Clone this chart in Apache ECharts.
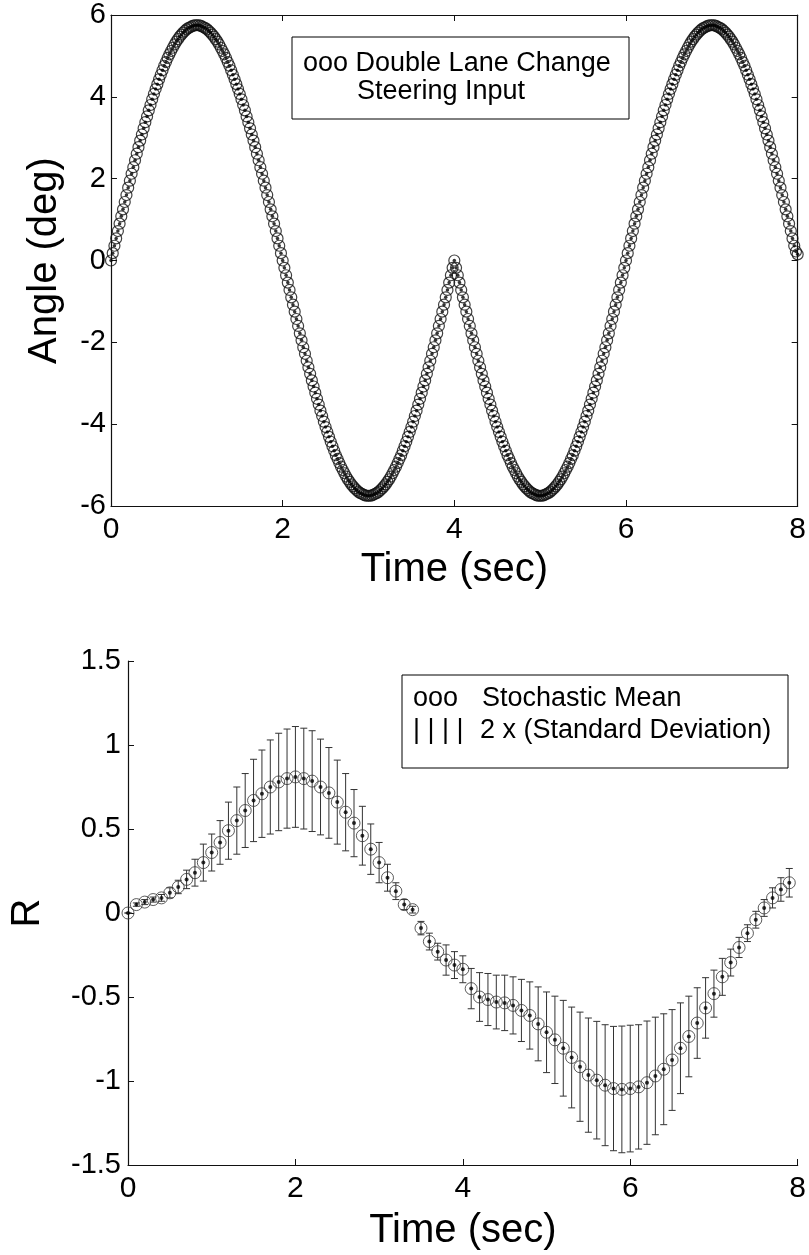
<!DOCTYPE html>
<html>
<head>
<meta charset="utf-8">
<script src="https://cdn.jsdelivr.net/npm/echarts@6/dist/echarts.min.js"></script>
<style>
  html, body { margin: 0; padding: 0; background: #fff; }
  #chart { width: 809px; height: 1255px; }
</style>
</head>
<body>
<div id="chart"></div>
<script>
// ---------- Top plot: double lane change steering input (deg), sampled every 0.02 s ----------
const steerStep = 0.02;
const steer0to1 = [0,0.18,0.36,0.54,0.72,0.90,1.08,1.25,1.43,1.60,1.78,1.95,2.12,2.28,2.45,2.61,2.77,2.93,3.08,3.23,3.38,3.52,3.67,3.80,3.94,4.07,4.19,4.31,4.43,4.54,4.65,4.76,4.85,4.95,5.04,5.12,5.20,5.28,5.35,5.41,5.47,5.52,5.57,5.61,5.65,5.68,5.70,5.72,5.74,5.75,5.75];
const steer1to2 = [5.75,5.74,5.72,5.70,5.68,5.65,5.61,5.57,5.52,5.47,5.41,5.35,5.28,5.20,5.12,5.04,4.95,4.85,4.76,4.65,4.54,4.43,4.31,4.19,4.07,3.94,3.80,3.67,3.52,3.38,3.23,3.08,2.93,2.77,2.61,2.45,2.28,2.12,1.95,1.78,1.60,1.43,1.25,1.08,0.90,0.72,0.54,0.36,0.18,0];
const steer2to3 = [-0.18,-0.36,-0.54,-0.72,-0.90,-1.08,-1.25,-1.43,-1.60,-1.78,-1.95,-2.12,-2.28,-2.45,-2.61,-2.77,-2.93,-3.08,-3.23,-3.38,-3.52,-3.67,-3.80,-3.94,-4.07,-4.19,-4.31,-4.43,-4.54,-4.65,-4.76,-4.85,-4.95,-5.04,-5.12,-5.20,-5.28,-5.35,-5.41,-5.47,-5.52,-5.57,-5.61,-5.65,-5.68,-5.70,-5.72,-5.74,-5.75,-5.75];
const steer3to4 = [-5.75,-5.74,-5.72,-5.70,-5.68,-5.65,-5.61,-5.57,-5.52,-5.47,-5.41,-5.35,-5.28,-5.20,-5.12,-5.04,-4.95,-4.85,-4.76,-4.65,-4.54,-4.43,-4.31,-4.19,-4.07,-3.94,-3.80,-3.67,-3.52,-3.38,-3.23,-3.08,-2.93,-2.77,-2.61,-2.45,-2.28,-2.12,-1.95,-1.78,-1.60,-1.43,-1.25,-1.08,-0.90,-0.72,-0.54,-0.36,-0.18,0];
const steer4to5 = [-0.18,-0.36,-0.54,-0.72,-0.90,-1.08,-1.25,-1.43,-1.60,-1.78,-1.95,-2.12,-2.28,-2.45,-2.61,-2.77,-2.93,-3.08,-3.23,-3.38,-3.52,-3.67,-3.80,-3.94,-4.07,-4.19,-4.31,-4.43,-4.54,-4.65,-4.76,-4.85,-4.95,-5.04,-5.12,-5.20,-5.28,-5.35,-5.41,-5.47,-5.52,-5.57,-5.61,-5.65,-5.68,-5.70,-5.72,-5.74,-5.75,-5.75];
const steer5to6 = [-5.75,-5.74,-5.72,-5.70,-5.68,-5.65,-5.61,-5.57,-5.52,-5.47,-5.41,-5.35,-5.28,-5.20,-5.12,-5.04,-4.95,-4.85,-4.76,-4.65,-4.54,-4.43,-4.31,-4.19,-4.07,-3.94,-3.80,-3.67,-3.52,-3.38,-3.23,-3.08,-2.93,-2.77,-2.61,-2.45,-2.28,-2.12,-1.95,-1.78,-1.60,-1.43,-1.25,-1.08,-0.90,-0.72,-0.54,-0.36,-0.18,0];
const steer6to7 = [0.18,0.36,0.54,0.72,0.90,1.08,1.25,1.43,1.60,1.78,1.95,2.12,2.28,2.45,2.61,2.77,2.93,3.08,3.23,3.38,3.52,3.67,3.80,3.94,4.07,4.19,4.31,4.43,4.54,4.65,4.76,4.85,4.95,5.04,5.12,5.20,5.28,5.35,5.41,5.47,5.52,5.57,5.61,5.65,5.68,5.70,5.72,5.74,5.75,5.75];
const steer7to8 = [5.75,5.74,5.72,5.70,5.68,5.65,5.61,5.57,5.52,5.47,5.41,5.35,5.28,5.20,5.12,5.04,4.95,4.85,4.76,4.65,4.54,4.43,4.31,4.19,4.07,3.94,3.80,3.67,3.52,3.38,3.23,3.08,2.93,2.77,2.61,2.45,2.28,2.12,1.95,1.78,1.60,1.43,1.25,1.08,0.90,0.72,0.54,0.36,0.22,0.15];

// ---------- Bottom plot: stochastic mean of R and half-length of the 2 x std bar ----------
const rTime = [0,0.1,0.2,0.3,0.4,0.5,0.6,0.7,0.8,0.9,1.0,1.1,1.2,1.3,1.4,1.5,1.6,1.7,1.8,1.9,2.0,2.1,2.2,2.3,2.4,2.5,2.6,2.7,2.8,2.9,3.0,3.1,3.2,3.3,3.4,3.5,3.6,3.7,3.8,3.9,4.0,4.1,4.2,4.3,4.4,4.5,4.6,4.7,4.8,4.9,5.0,5.1,5.2,5.3,5.4,5.5,5.6,5.7,5.8,5.9,6.0,6.1,6.2,6.3,6.4,6.5,6.6,6.7,6.8,6.9,7.0,7.1,7.2,7.3,7.4,7.5,7.6,7.7,7.8,7.9];
const rMean = [0,0.05,0.065,0.08,0.09,0.12,0.155,0.20,0.24,0.30,0.36,0.42,0.49,0.55,0.61,0.67,0.71,0.75,0.78,0.80,0.81,0.80,0.785,0.75,0.715,0.66,0.60,0.535,0.46,0.38,0.30,0.21,0.13,0.05,0.02,-0.09,-0.17,-0.23,-0.28,-0.31,-0.335,-0.45,-0.50,-0.515,-0.53,-0.535,-0.55,-0.58,-0.61,-0.66,-0.71,-0.755,-0.805,-0.86,-0.915,-0.965,-0.995,-1.025,-1.045,-1.05,-1.045,-1.035,-1.01,-0.97,-0.93,-0.875,-0.805,-0.735,-0.655,-0.565,-0.48,-0.38,-0.295,-0.205,-0.12,-0.04,0.03,0.09,0.14,0.18];
const rHalfBar = [0,0.01,0.015,0.015,0.02,0.03,0.04,0.055,0.08,0.11,0.11,0.13,0.17,0.20,0.22,0.245,0.26,0.28,0.29,0.295,0.30,0.30,0.30,0.285,0.27,0.25,0.23,0.20,0.175,0.15,0.12,0.08,0.05,0.03,0.02,0.04,0.05,0.05,0.09,0.08,0.08,0.12,0.145,0.155,0.16,0.165,0.17,0.185,0.20,0.22,0.24,0.26,0.285,0.30,0.325,0.34,0.35,0.36,0.37,0.377,0.377,0.37,0.367,0.35,0.33,0.30,0.27,0.24,0.21,0.18,0.14,0.11,0.08,0.06,0.05,0.05,0.05,0.06,0.07,0.085];

// ---------- Tick settings / texts ----------
const topXTicks = { min: 0, max: 8, interval: 2 };
const topYTicks = { min: -6, max: 6, interval: 2 };
const botXTicks = { min: 0, max: 8, interval: 2 };
const botYTicks = { min: -1.5, max: 1.5, interval: 0.5 };
const topLegendLines = ['ooo Double Lane Change', 'Steering Input'];
const botLegendMarks = ['ooo', '| | | |'];
const botLegendTexts = ['Stochastic Mean', '2 x (Standard Deviation)'];

// ---------- Build ----------
const steerAll = [].concat(steer0to1, steer1to2, steer2to3, steer3to4, steer4to5, steer5to6, steer6to7, steer7to8);
const steerData = steerAll.map((v, i) => [+(i * steerStep).toFixed(2), v]);
const rData = rTime.map((t, i) => [t, rMean[i]]);
const rBarData = rTime.map((t, i) => [t, rMean[i], rHalfBar[i]]);

const FONT = '"Liberation Sans", Arial, Helvetica, sans-serif';
const INK = '#111';

function axisBase(extra, labelSize, labelMargin) {
  return Object.assign({
    type: 'value',
    axisLine: { show: true, onZero: false, lineStyle: { color: INK, width: 1.2 } },
    axisTick: { show: true, inside: true, length: 6, lineStyle: { color: INK, width: 1 } },
    splitLine: { show: false },
    axisLabel: { color: '#000', fontSize: labelSize || 29, fontFamily: FONT, margin: labelMargin || 8 },
    nameTextStyle: { color: '#000', fontSize: 40, fontFamily: FONT }
  }, extra);
}

const chart = echarts.init(document.getElementById('chart'), null, { renderer: 'canvas' });

const option = {
  animation: false,
  backgroundColor: '#fff',
  grid: [
    { left: 111, top: 15, width: 689, height: 491 },
    { left: 121, top: 661, width: 679, height: 504 }
  ],
  xAxis: [
    axisBase(Object.assign({ gridIndex: 0, position: 'bottom', name: 'Time (sec)', nameLocation: 'middle', nameGap: 44 }, topXTicks), 30, 9),
    axisBase(Object.assign({ gridIndex: 0, position: 'top', axisLabel: { show: false } }, topXTicks)),
    axisBase(Object.assign({ gridIndex: 1, position: 'bottom', name: 'Time (sec)', nameLocation: 'middle', nameGap: 46 }, botXTicks), 30, 9)
  ],
  yAxis: [
    axisBase(Object.assign({ gridIndex: 0, position: 'left', name: 'Angle (deg)', nameLocation: 'middle', nameGap: 46 }, topYTicks), 29, 5),
    axisBase(Object.assign({ gridIndex: 0, position: 'right', axisLabel: { show: false } }, topYTicks)),
    axisBase(Object.assign({ gridIndex: 1, position: 'left', name: 'R', nameLocation: 'middle', nameGap: 80 }, botYTicks), 29, 7)
  ],
  series: [
    {
      type: 'scatter', xAxisIndex: 0, yAxisIndex: 0, data: steerData,
      symbol: 'circle', symbolSize: 11,
      itemStyle: { color: 'rgba(0,0,0,0)', borderColor: '#111', borderWidth: 1.2 },
      silent: true
    },
    {
      type: 'scatter', xAxisIndex: 0, yAxisIndex: 0, data: steerData,
      symbol: 'circle', symbolSize: 3.5,
      itemStyle: { color: '#000' }, silent: true
    },
    {
      type: 'custom', xAxisIndex: 2, yAxisIndex: 2, data: rBarData,
      encode: { x: 0, y: 1 },
      renderItem: function (params, api) {
        const x = api.value(0), m = api.value(1), e = api.value(2);
        const hi = api.coord([x, m + e]);
        const lo = api.coord([x, m - e]);
        const hw = 3.5;
        const st = { stroke: '#333', lineWidth: 1 };
        return {
          type: 'group',
          children: [
            { type: 'line', shape: { x1: hi[0], y1: hi[1], x2: lo[0], y2: lo[1] }, style: st },
            { type: 'line', shape: { x1: hi[0] - hw, y1: hi[1], x2: hi[0] + hw, y2: hi[1] }, style: st },
            { type: 'line', shape: { x1: lo[0] - hw, y1: lo[1], x2: lo[0] + hw, y2: lo[1] }, style: st }
          ]
        };
      },
      silent: true
    },
    {
      type: 'scatter', xAxisIndex: 2, yAxisIndex: 2, data: rData,
      symbol: 'circle', symbolSize: 12,
      itemStyle: { color: 'rgba(0,0,0,0)', borderColor: '#333', borderWidth: 1 },
      silent: true
    },
    {
      type: 'scatter', xAxisIndex: 2, yAxisIndex: 2, data: rData,
      symbol: 'circle', symbolSize: 4,
      itemStyle: { color: '#000' }, silent: true
    }
  ],
  graphic: [
    { type: 'rect', z: 100, shape: { x: 292, y: 37, width: 337, height: 82 }, style: { fill: '#fff', stroke: '#000', lineWidth: 1 } },
    { type: 'text', z: 101, x: 303, y: 64, style: { text: topLegendLines[0], fill: '#000', fontSize: 27, fontFamily: FONT, verticalAlign: 'middle' } },
    { type: 'text', z: 101, x: 357, y: 92, style: { text: topLegendLines[1], fill: '#000', fontSize: 27, fontFamily: FONT, verticalAlign: 'middle' } },
    { type: 'rect', z: 100, shape: { x: 402, y: 675, width: 386, height: 93 }, style: { fill: '#fff', stroke: '#000', lineWidth: 1 } },
    { type: 'text', z: 101, x: 413, y: 699, style: { text: botLegendMarks[0], fill: '#000', fontSize: 27, fontFamily: FONT, verticalAlign: 'middle' } },
    { type: 'text', z: 101, x: 482, y: 699, style: { text: botLegendTexts[0], fill: '#000', fontSize: 27, fontFamily: FONT, verticalAlign: 'middle' } },
    { type: 'text', z: 101, x: 413, y: 731, style: { text: botLegendMarks[1], fill: '#000', fontSize: 27, fontFamily: FONT, verticalAlign: 'middle' } },
    { type: 'text', z: 101, x: 480, y: 731, style: { text: botLegendTexts[1], fill: '#000', fontSize: 27, fontFamily: FONT, verticalAlign: 'middle' } }
  ]
};

chart.setOption(option);
</script>
</body>
</html>
